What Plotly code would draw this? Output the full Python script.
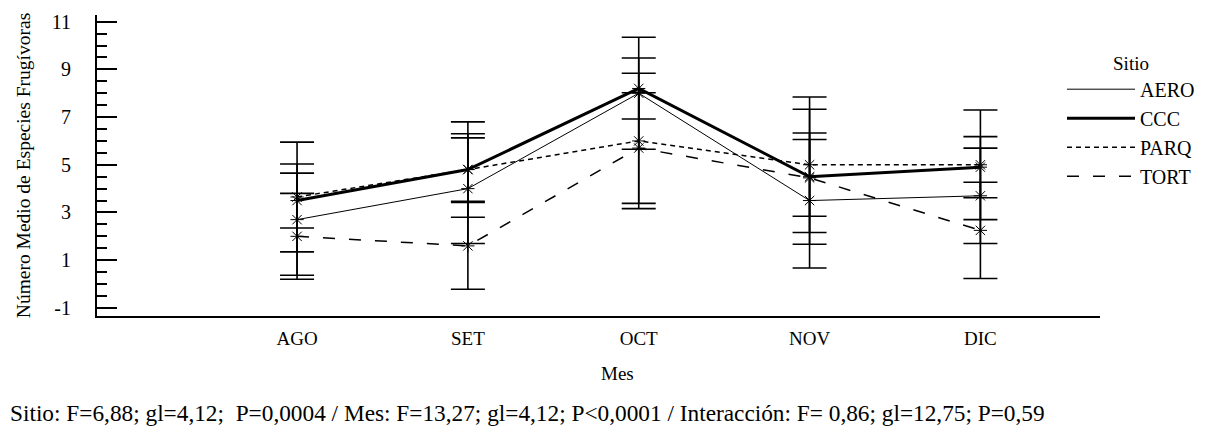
import plotly.graph_objects as go

months = ["AGO", "SET", "OCT", "NOV", "DIC"]
sites = ["AERO", "CCC", "PARQ", "TORT"]

aero_mean = [2.7, 4.0, 8.0, 3.5, 3.7]
ccc_mean = [3.5, 4.8, 8.2, 4.5, 4.9]
parq_mean = [3.65, 4.8, 6.0, 5.0, 5.0]
tort_mean = [2.0, 1.6, 5.7, 4.45, 2.25]

aero_err = [2.33, 2.3, 2.35, 2.83, 2.0]
ccc_err = [1.15, 2.0, 1.28, 2.83, 1.28]
parq_err = [2.3, 1.33, 2.84, 2.84, 2.3]
tort_err = [1.8, 1.82, 2.32, 1.61, 2.02]

y_ticks = [-1, 1, 3, 5, 7, 9, 11]

footer = ("Sitio: F=6,88; gl=4,12;  P=0,0004 / Mes: F=13,27; gl=4,12; P<0,0001 / "
          "Interacción: F= 0,86; gl=12,75; P=0,59")

means = [aero_mean, ccc_mean, parq_mean, tort_mean]
errs = [aero_err, ccc_err, parq_err, tort_err]
widths = [1, 3, 1.5, 1.5]
dashes = ["solid", "solid", "5px,4px", "12px,14px"]

FONT = "Liberation Serif"
W, H = 1215, 432
L, R, T, B = 97, 1100, 15, 316

fig = go.Figure()
for name, m, e, w, d in zip(sites, means, errs, widths, dashes):
    fig.add_trace(go.Scatter(
        x=months, y=m, mode="lines+markers", name=name, showlegend=False,
        line=dict(color="black", width=w, dash=d),
        marker=dict(symbol="asterisk-open", size=11, color="black",
                    line=dict(color="black", width=1)),
        error_y=dict(type="data", array=e, visible=True, color="black",
                     thickness=1.6, width=17),
    ))
for name, w, d in zip(sites, widths, dashes):
    fig.add_trace(go.Scatter(
        x=[None], y=[None], mode="lines", name=name, showlegend=True,
        line=dict(color="black", width=w, dash=d),
    ))

pw = R - L
ph = B - T

fig.update_layout(
    width=W, height=H,
    margin=dict(l=L, r=W - R, t=T, b=H - B, pad=0),
    plot_bgcolor="white", paper_bgcolor="white",
    font=dict(family=FONT, size=18, color="black"),
    showlegend=True,
    legend=dict(
        title=dict(text="Sitio", side="top center", font=dict(size=19)),
        x=(1062 - L) / pw, y=(B - 45) / ph, xanchor="left", yanchor="top",
        bgcolor="rgba(0,0,0,0)", font=dict(size=20, family=FONT),
        tracegroupgap=0, itemwidth=68,
    ),
    xaxis=dict(
        type="category", range=[-1.171, 4.70],
        showline=True, linecolor="black", linewidth=2,
        ticks="", showgrid=False, zeroline=False,
        tickfont=dict(size=19, family=FONT),
        ticklabelstandoff=4,
    ),
    yaxis=dict(
        range=[-1.34, 11.28],
        tickvals=y_ticks, ticktext=[str(v) for v in y_ticks],
        showline=True, linecolor="black", linewidth=2,
        ticks="inside", ticklen=20, tickwidth=2, tickcolor="black",
        minor=dict(dtick=0.5, tick0=-1, ticks="inside", ticklen=10,
                   tickwidth=2, tickcolor="black", showgrid=False),
        showgrid=False, zeroline=False,
        tickfont=dict(size=20, family=FONT),
        ticklabelstandoff=20,
        title=dict(text="Número Medio de Especies Frugívoras",
                   font=dict(size=19.5, family=FONT), standoff=16),
    ),
    annotations=[
        dict(text="Mes", xref="paper", yref="paper",
             x=(617 - L) / pw, y=(B - 373) / ph, xanchor="center", yanchor="middle",
             showarrow=False, font=dict(size=19, family=FONT)),
        dict(text=footer, xref="paper", yref="paper",
             x=(8 - L) / pw, y=(B - 413) / ph, xanchor="left", yanchor="middle",
             showarrow=False, font=dict(size=23.3, family=FONT)),
    ],
)

fig.write_html("out.html")
